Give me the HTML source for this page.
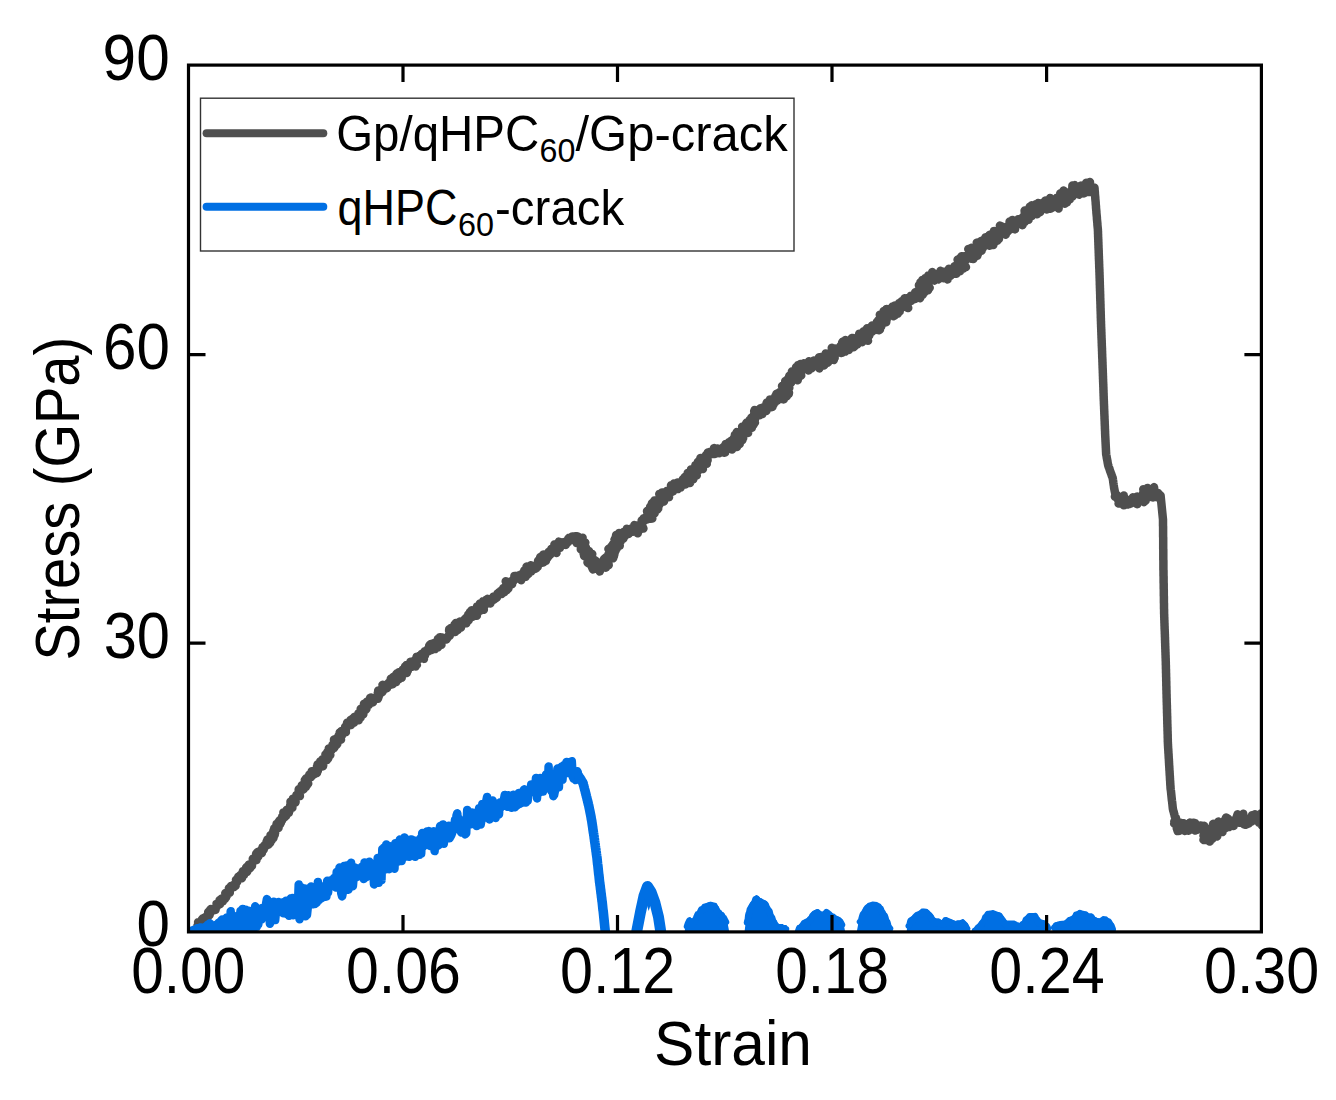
<!DOCTYPE html>
<html><head><meta charset="utf-8"><title>Stress-Strain</title>
<style>html,body{margin:0;padding:0;background:#fff;overflow:hidden;}svg{display:block;font-family:"Liberation Sans",sans-serif;}</style>
</head><body>
<svg width="1336" height="1100" viewBox="0 0 1336 1100">
<defs><clipPath id="pc"><rect x="188.5" y="65.1" width="1072.9" height="866.8"/></clipPath></defs>
<rect width="1336" height="1100" fill="#fff"/>
<g clip-path="url(#pc)" fill="none" stroke-linecap="round" stroke-linejoin="round" stroke-width="8.5">
<path d="M196.5,928.5 197.3,927.8 197.9,927.0 197.5,925.6 198.0,924.7 200.2,925.0 198.1,922.2 201.3,923.4 201.9,922.7 201.5,921.1 201.7,919.9 202.3,919.1 202.9,918.3 204.1,918.0 204.9,917.4 205.7,916.8 207.7,917.2 207.8,915.9 207.9,914.7 209.6,915.1 208.2,912.2 208.9,911.3 210.9,912.1 210.2,909.7 210.9,909.0 212.9,909.9 213.6,909.1 215.5,909.9 215.6,908.4 216.1,907.4 216.8,906.7 216.8,905.3 216.6,903.9 217.8,903.7 220.0,904.2 219.0,902.1 220.1,901.8 219.6,900.0 222.9,901.4 221.3,898.8 222.3,898.3 224.9,899.1 224.3,897.4 226.0,897.4 225.9,896.1 226.9,895.6 225.3,893.1 227.4,893.5 227.9,892.6 229.8,892.8 228.7,890.7 230.1,890.5 228.9,888.3 230.6,888.3 231.0,887.4 231.0,886.1 233.9,887.1 233.0,885.2 235.6,885.9 234.9,884.1 235.6,883.4 236.3,882.7 237.1,882.0 236.0,879.8 237.6,879.8 237.5,878.5 238.7,878.2 238.3,876.6 241.9,878.2 240.0,875.3 242.2,875.8 241.5,874.0 244.1,874.9 244.0,873.5 242.9,871.2 245.9,872.5 246.9,872.0 247.4,871.2 247.0,869.4 246.2,867.5 247.0,866.8 250.1,868.2 249.5,866.4 248.9,864.5 252.0,865.8 251.8,864.4 252.2,863.4 252.2,862.1 253.0,861.4 253.0,860.2 252.8,858.8 256.4,860.2 255.5,858.4 256.4,857.7 256.1,856.3 258.3,856.6 256.1,853.9 258.0,854.0 257.3,852.3 258.2,851.7 261.9,853.1 261.3,851.4 261.0,850.0 262.0,849.5 263.8,849.6 262.5,847.3 264.1,847.3 265.1,846.9 264.6,845.1 265.8,844.9 267.4,844.9 268.5,844.6 266.6,841.5 270.0,843.2 267.4,839.5 270.7,841.1 271.6,840.5 269.7,837.9 271.5,837.9 273.5,838.0 270.5,835.2 273.5,835.7 274.7,835.0 273.8,833.6 275.1,833.0 273.3,831.2 273.6,830.2 274.7,829.6 274.3,828.3 275.4,827.7 278.5,828.0 277.2,826.3 276.5,824.9 276.6,823.9 280.1,824.4 278.2,822.4 280.9,822.8 279.3,820.7 280.0,820.0 282.2,820.3 282.2,819.1 282.2,817.9 282.2,816.6 284.6,817.3 283.4,815.0 286.1,815.9 283.4,812.4 285.4,812.8 286.4,812.3 288.8,812.9 286.6,809.9 289.5,810.9 289.5,809.6 290.2,808.9 290.4,807.8 292.4,807.8 290.2,805.2 291.0,804.6 290.6,803.2 290.5,801.9 291.7,801.5 295.4,802.6 295.6,801.6 292.9,798.7 295.6,799.2 295.6,798.0 296.6,797.5 297.4,796.8 296.4,794.9 299.9,796.1 298.2,793.8 299.5,793.4 300.1,792.6 298.7,790.4 298.7,789.2 300.8,789.5 303.0,789.7 303.8,789.1 304.0,788.0 301.8,785.3 305.9,786.9 306.0,785.8 306.9,785.2 305.9,783.2 308.2,783.7 304.9,780.0 305.5,779.2 306.1,778.3 307.8,778.3 308.4,777.5 308.7,776.6 311.0,777.1 309.3,774.5 312.4,775.6 311.1,773.3 314.0,774.4 311.7,771.2 313.6,771.5 317.0,773.0 315.9,770.8 317.8,771.0 317.7,769.7 318.2,768.8 317.0,766.4 319.3,767.1 317.6,764.3 321.6,766.5 323.0,766.3 323.2,765.2 320.2,761.4 322.2,761.7 322.7,760.9 322.4,759.4 325.4,760.4 326.8,760.1 324.9,757.7 328.2,758.5 328.3,757.4 325.4,754.5 329.2,755.6 330.3,755.1 327.3,752.1 329.7,752.4 330.6,751.8 330.9,750.8 328.8,748.4 332.2,749.3 332.6,748.3 334.1,748.1 334.5,747.2 332.5,744.7 335.1,745.3 336.4,745.0 337.1,744.3 334.1,740.8 334.0,739.5 337.7,741.0 336.1,738.6 338.5,739.1 341.0,739.7 338.7,736.8 338.7,735.5 340.3,735.5 341.9,735.5 339.7,732.5 341.8,732.8 341.1,731.1 344.4,732.3 345.9,732.2 344.2,729.6 344.8,728.8 346.2,728.7 345.2,726.6 346.0,725.9 347.0,725.4 348.2,725.2 347.1,722.7 351.0,725.1 351.0,723.7 350.5,721.7 350.5,719.9 354.0,722.8 352.2,718.9 353.0,718.3 353.8,717.7 354.3,716.9 358.7,720.3 356.6,716.6 357.4,716.1 360.6,717.6 360.1,715.8 358.4,713.3 360.3,713.5 363.3,714.3 361.1,711.6 363.5,712.0 360.7,708.9 364.7,710.5 365.6,709.8 366.4,709.2 366.2,707.8 365.1,705.8 364.0,703.7 367.0,704.7 368.8,705.0 366.7,701.8 367.8,701.4 369.9,702.0 371.6,702.3 373.0,702.4 370.1,697.9 371.1,697.5 374.7,699.8 374.7,698.4 375.8,698.1 377.9,698.7 378.3,697.8 378.6,696.6 379.0,695.6 377.8,693.0 379.7,693.5 378.2,690.5 381.7,692.6 382.4,691.9 383.0,691.0 382.3,689.0 382.7,687.9 383.6,687.4 382.5,684.8 387.0,688.2 386.4,686.0 386.5,684.6 388.0,684.8 389.5,685.1 388.8,682.6 391.5,684.4 392.7,684.3 391.1,680.8 390.8,678.8 394.3,681.5 396.1,682.2 393.2,676.9 396.5,679.4 397.7,679.4 399.0,679.3 396.2,674.3 396.8,673.5 401.6,677.8 398.5,672.4 399.6,672.1 402.1,673.7 402.3,672.3 404.5,673.4 402.7,669.6 406.8,673.0 404.3,668.5 407.7,670.9 405.1,666.4 407.8,668.0 406.5,664.9 408.6,665.8 409.3,665.1 412.0,666.8 411.5,664.6 410.5,661.7 415.6,666.5 415.9,665.3 416.8,664.8 414.6,660.3 416.0,660.6 416.1,659.0 416.4,657.8 416.7,656.7 419.7,658.8 418.6,656.1 419.6,655.8 423.9,658.9 422.6,656.1 421.6,653.8 424.9,655.5 423.3,652.8 425.4,653.3 424.7,651.3 426.7,651.7 428.0,651.5 428.1,650.3 428.0,648.8 430.7,650.3 431.7,650.0 429.3,645.4 430.1,644.6 430.9,643.9 435.1,649.1 435.9,648.3 434.1,643.1 437.8,647.5 435.7,642.1 437.8,643.5 438.6,643.0 441.4,644.9 437.9,639.0 439.9,639.9 442.1,640.8 439.9,637.2 441.5,637.4 443.5,638.0 446.4,639.5 446.5,638.2 447.6,637.8 447.9,636.8 448.3,635.8 449.7,635.9 449.6,634.3 450.6,634.0 449.1,630.8 449.2,629.3 453.0,632.2 450.8,628.0 455.3,631.9 454.5,629.3 453.9,627.0 457.7,630.0 454.5,624.7 457.1,626.2 455.8,623.0 460.9,627.7 459.7,624.7 461.6,625.5 459.8,621.6 463.2,624.2 463.5,623.0 464.0,622.0 466.3,623.3 464.5,619.4 465.2,618.7 467.3,619.8 468.8,620.2 467.3,616.4 469.6,618.0 468.3,614.4 470.7,616.1 472.5,616.9 470.1,611.8 474.0,615.5 471.5,610.3 476.8,615.8 475.3,612.1 475.7,611.1 478.1,612.4 477.8,610.5 479.7,611.1 477.0,606.5 480.3,608.8 481.0,608.1 483.8,609.8 479.8,603.6 482.8,605.5 484.5,606.0 484.8,604.8 483.1,601.2 486.5,603.8 485.4,600.9 486.0,600.0 490.3,603.6 487.5,598.8 489.6,599.7 491.9,600.9 492.5,600.0 492.4,598.4 494.4,599.4 493.5,596.5 495.1,597.0 496.8,597.8 497.0,596.3 497.7,595.5 497.5,593.4 499.0,593.9 499.1,592.2 501.6,594.0 500.6,591.1 501.9,591.1 504.3,592.3 503.5,590.0 503.2,588.2 506.8,590.2 504.7,587.0 508.3,588.7 508.5,587.6 507.0,585.1 509.3,585.7 505.7,581.3 508.6,582.4 512.1,584.3 511.0,582.0 511.5,581.1 512.7,581.1 513.6,580.8 514.0,579.8 514.3,578.1 514.4,575.9 515.7,576.3 516.6,575.9 518.0,576.6 521.2,580.3 519.4,575.2 520.7,575.4 521.1,574.2 522.9,575.0 525.6,576.8 526.1,575.8 524.1,571.8 524.3,570.4 528.4,573.9 527.1,570.7 528.8,571.3 526.6,566.5 531.2,571.5 529.5,567.1 531.2,567.9 530.9,565.2 532.7,566.4 535.2,568.9 536.1,568.4 535.5,565.3 537.7,567.0 537.2,564.3 537.6,563.2 539.2,563.7 538.1,560.7 539.5,560.8 542.4,562.7 543.5,562.4 540.2,557.2 544.8,560.9 546.0,560.7 544.6,557.7 543.2,554.6 547.5,557.9 545.7,554.4 548.7,556.3 547.9,553.9 550.2,554.9 548.7,551.8 550.7,552.5 551.8,552.2 553.1,552.2 551.4,548.7 556.5,553.0 553.4,547.9 554.2,547.4 554.7,546.4 554.4,544.5 557.2,546.2 559.9,547.9 560.3,546.9 558.3,542.8 558.8,541.7 560.6,542.4 563.8,544.8 563.0,542.3 565.8,544.9 565.3,542.3 565.9,541.5 567.2,542.6 568.0,542.3 568.2,538.7 569.1,537.8 570.3,539.3 571.4,539.6 572.2,536.4 573.4,539.0 574.4,540.7 575.4,536.2 576.9,536.3 578.3,536.8 579.2,537.8 576.8,543.2 582.6,537.7 582.3,539.9 583.1,541.0 581.1,543.3 585.3,542.5 582.1,545.1 584.9,544.8 584.5,546.1 580.8,549.2 585.9,547.4 583.2,550.2 585.4,550.0 585.9,550.8 583.6,553.8 589.0,551.0 584.0,555.8 584.8,556.4 587.0,556.0 592.2,554.0 588.0,557.7 588.9,558.3 588.0,559.9 592.9,558.5 587.5,562.5 588.6,563.3 594.9,560.3 593.8,562.1 596.3,561.1 591.8,566.7 592.3,567.9 593.0,569.4 595.9,567.2 596.6,568.3 597.5,569.1 598.8,568.2 599.7,571.5 600.9,568.1 601.4,565.5 602.8,566.8 601.4,562.8 605.9,567.7 606.3,566.5 605.0,563.9 608.7,565.2 608.5,563.7 605.6,561.0 604.0,559.0 604.9,558.4 605.7,557.7 607.2,557.3 608.8,557.0 613.2,558.2 608.3,554.6 613.9,556.3 612.5,554.5 614.4,554.3 611.2,551.5 608.4,549.0 615.3,551.4 611.3,548.2 610.9,546.9 616.7,548.8 616.3,547.4 612.8,544.5 613.8,543.8 619.7,545.8 614.7,542.1 618.7,543.0 614.5,539.6 620.4,541.9 615.5,537.5 619.0,538.7 616.1,535.1 620.6,537.5 623.3,538.7 619.1,533.0 621.1,533.6 624.8,536.3 624.6,534.6 623.5,531.9 626.2,533.4 625.9,531.5 628.7,534.0 626.8,528.8 629.4,532.2 629.9,531.1 631.0,532.0 631.3,528.6 632.7,531.7 633.7,531.3 634.3,528.3 634.4,525.0 637.8,533.3 638.2,530.9 636.9,525.9 640.1,529.6 638.6,525.4 640.3,526.3 643.4,528.5 641.8,524.9 641.6,523.1 642.5,522.6 641.7,520.5 643.3,520.9 644.3,520.7 644.1,519.5 643.6,518.2 647.2,519.4 645.5,517.4 650.3,518.7 652.3,518.5 647.2,515.0 650.2,515.3 650.1,514.2 647.0,511.2 647.8,510.5 654.5,513.5 651.9,510.6 655.0,511.6 650.1,506.7 654.6,508.9 657.3,509.6 658.0,508.8 651.9,503.3 656.4,505.2 655.7,503.6 659.4,504.7 654.4,500.4 656.5,500.5 661.3,502.6 659.2,499.8 659.6,498.9 663.9,501.6 660.3,496.7 659.3,494.0 662.4,495.9 661.7,493.5 662.0,492.4 665.7,495.2 669.0,497.2 667.3,493.9 668.5,493.6 667.0,490.7 669.4,491.7 671.3,492.3 671.0,490.5 673.0,491.3 672.1,488.9 671.0,485.4 673.7,487.8 674.1,486.6 674.0,483.5 676.4,487.4 677.8,489.1 677.4,482.5 679.1,486.1 680.7,487.6 680.7,484.4 681.0,483.1 682.3,483.7 683.8,484.3 685.4,484.6 685.3,482.9 682.8,479.2 688.5,483.1 690.0,483.1 684.8,477.0 686.5,477.2 686.6,476.0 692.1,479.6 693.3,479.3 687.7,473.0 690.4,474.1 690.1,472.4 692.7,473.4 696.7,475.5 691.0,469.4 692.4,469.3 695.4,470.5 696.3,469.9 698.6,470.5 697.0,467.8 695.4,465.2 697.6,465.8 702.9,469.0 701.8,466.8 697.9,461.8 703.5,465.8 700.8,461.7 704.7,464.4 700.4,458.1 706.7,463.8 702.9,457.9 705.5,459.4 707.6,460.3 707.4,458.5 706.0,455.2 706.7,454.3 708.4,454.8 707.9,452.4 709.7,453.1 710.1,451.8 712.8,454.0 713.1,452.6 715.1,453.9 714.4,450.8 714.0,448.1 716.4,450.1 719.2,453.3 717.8,448.4 719.5,449.4 721.8,452.2 721.4,448.6 724.1,452.7 725.1,452.6 723.8,446.6 726.4,450.1 725.3,445.4 725.7,444.0 727.9,446.2 729.5,447.1 732.0,449.5 728.9,442.2 732.7,446.5 732.3,444.0 731.3,440.5 736.9,447.0 736.3,444.1 733.3,439.4 739.6,444.2 733.9,438.1 734.2,437.4 736.6,438.0 742.4,440.1 734.9,434.8 743.1,438.4 740.9,435.9 736.8,432.1 741.5,434.0 741.2,432.6 742.7,432.5 744.7,432.8 744.9,431.7 748.1,432.9 742.1,426.8 747.9,430.2 745.3,426.9 748.9,428.3 750.4,428.1 751.8,427.9 746.4,422.8 748.5,423.1 753.2,425.1 753.8,424.3 749.6,420.1 754.9,422.7 751.0,418.7 751.3,417.7 755.0,419.3 753.3,416.6 753.7,415.6 754.0,414.4 755.2,414.2 754.2,411.3 754.7,409.9 759.6,415.3 759.3,413.1 760.8,413.5 762.3,414.1 760.0,408.6 760.8,408.1 761.9,407.9 762.9,407.6 766.3,411.0 765.0,407.1 765.5,406.1 768.1,408.3 766.4,403.8 766.8,402.6 771.0,407.2 772.3,407.1 770.3,402.7 773.3,404.9 770.0,399.5 773.2,401.7 775.1,402.4 773.5,399.2 774.9,399.2 777.5,400.4 778.1,399.6 775.5,395.7 780.3,399.0 776.4,393.8 783.8,399.4 778.6,393.3 779.7,393.0 779.8,391.9 786.8,396.3 781.7,390.9 784.9,392.2 788.8,393.8 789.0,392.7 782.0,386.2 786.6,388.4 787.9,388.1 789.3,387.9 786.8,384.8 787.4,384.0 785.2,381.2 786.0,380.6 791.0,383.0 787.5,379.3 789.1,379.2 790.8,379.2 789.1,376.8 789.3,375.8 797.7,380.2 793.9,376.5 792.5,374.3 797.5,376.4 791.9,371.5 794.5,372.0 801.2,375.6 801.0,374.6 799.4,372.1 796.1,367.0 798.6,368.2 798.0,365.1 800.2,366.3 800.4,363.9 801.8,364.4 804.9,368.9 803.6,363.3 804.8,363.4 808.5,370.5 807.4,364.3 808.4,364.0 808.8,361.3 811.7,368.4 812.3,367.0 813.0,365.4 814.1,366.0 813.8,360.4 815.1,361.9 817.1,365.0 819.4,368.4 819.9,366.6 820.1,364.3 820.5,362.7 819.0,357.4 824.1,365.4 821.0,357.0 822.1,357.2 826.0,362.1 827.6,362.7 828.4,361.9 827.1,358.3 826.0,355.3 825.7,353.5 832.2,359.6 833.8,360.0 829.4,353.3 834.6,357.8 832.1,353.3 832.2,351.9 834.3,352.9 831.8,347.9 835.5,351.1 834.8,348.4 838.8,352.5 838.4,350.1 841.3,353.0 842.4,352.7 839.9,346.8 840.6,345.9 845.2,351.6 843.6,347.0 842.1,342.6 842.7,341.6 848.8,350.1 847.4,345.6 845.5,340.0 848.7,344.0 849.6,343.5 850.2,342.4 853.4,347.2 854.2,346.9 851.8,338.1 852.8,338.0 854.8,340.2 857.4,344.3 857.5,341.7 858.9,342.5 859.2,340.5 858.5,336.4 862.2,342.2 859.2,333.8 863.7,340.2 861.7,334.8 864.0,336.8 868.0,340.8 866.1,336.2 863.6,331.3 866.9,334.0 869.3,335.5 866.0,329.6 868.1,330.7 867.1,328.2 871.7,332.0 871.2,330.0 872.8,330.3 871.8,327.9 875.4,329.9 872.0,325.6 878.8,330.2 879.9,329.8 876.7,325.6 877.1,324.7 881.1,326.8 876.9,321.9 881.9,324.9 878.2,320.3 882.5,322.8 880.0,319.2 882.9,320.5 886.2,322.2 879.8,314.8 886.6,319.9 885.1,317.1 884.5,315.1 885.0,314.1 883.6,311.1 885.8,311.8 889.1,314.2 886.4,309.0 891.0,313.7 893.5,316.1 894.4,315.8 894.7,314.5 895.1,313.1 892.5,306.5 897.7,313.8 894.4,305.7 898.8,311.8 899.7,311.4 899.2,308.4 899.6,307.0 899.0,303.3 901.4,306.1 901.3,303.4 901.4,301.3 902.3,300.9 906.6,307.3 908.2,308.0 904.7,300.0 904.6,298.3 906.8,300.1 906.6,298.3 907.7,298.2 911.3,301.0 910.9,299.0 911.7,298.4 910.8,295.8 915.0,299.1 912.9,295.3 914.5,295.6 915.7,295.5 920.0,298.3 915.2,292.3 919.8,295.2 917.0,291.4 922.7,294.9 919.0,290.5 920.6,290.5 924.5,292.4 923.3,290.2 918.9,285.2 920.0,284.7 928.0,290.3 920.4,282.3 923.4,283.6 929.6,287.9 922.4,279.9 924.3,280.3 925.5,279.9 925.2,278.2 929.0,280.6 930.7,280.8 929.2,277.9 928.2,275.5 934.4,280.5 934.9,280.0 933.8,277.1 932.3,272.1 935.2,275.9 936.4,276.8 936.8,274.5 938.4,279.4 938.9,274.0 940.0,275.3 940.5,270.7 942.1,275.8 943.6,278.0 944.6,277.4 944.1,271.8 947.6,279.5 947.6,276.1 947.3,272.6 948.2,272.1 950.8,275.6 948.8,268.9 952.1,273.3 953.6,273.7 953.2,271.1 956.4,273.8 954.4,269.3 955.1,268.6 954.4,266.4 960.1,271.2 956.2,265.4 959.8,267.9 958.4,264.8 963.2,268.6 964.0,268.1 957.6,259.6 965.9,267.1 963.6,263.1 960.1,258.0 964.2,260.8 961.4,256.4 966.1,259.9 963.9,256.2 966.1,257.0 966.3,255.8 969.4,257.6 971.9,258.8 973.5,259.0 969.4,253.2 972.1,254.6 968.3,249.1 971.9,251.5 977.3,255.8 971.4,248.0 978.1,253.7 977.1,251.1 975.0,247.4 979.4,250.9 976.5,245.9 981.5,250.8 976.8,242.6 978.0,242.4 982.8,248.1 981.9,244.6 981.1,241.0 984.0,244.3 983.7,241.6 986.0,243.7 988.0,245.1 989.7,245.7 985.5,237.4 989.7,242.0 993.2,245.1 990.4,239.5 993.4,241.8 989.5,234.9 995.7,241.6 994.5,238.3 997.5,240.5 997.6,239.0 998.9,239.1 994.0,231.0 999.4,236.5 996.5,231.1 997.8,231.1 999.0,231.0 1001.7,232.8 1002.8,232.5 1005.7,234.7 999.9,225.6 1002.1,226.6 1004.1,227.5 1007.7,231.5 1006.8,228.2 1007.6,227.5 1009.7,229.8 1010.1,228.4 1009.5,224.0 1009.6,221.5 1012.1,225.3 1015.0,229.4 1014.6,226.0 1012.4,220.1 1015.5,223.6 1015.8,222.4 1017.9,223.5 1018.7,222.8 1022.4,225.2 1018.2,219.3 1019.5,219.2 1021.8,220.3 1024.8,221.9 1024.0,219.7 1022.9,217.0 1026.2,219.4 1024.4,215.7 1028.6,219.7 1024.8,212.7 1024.6,210.6 1030.0,216.9 1027.5,211.2 1031.8,216.0 1031.1,213.1 1031.3,211.6 1029.7,206.8 1034.6,213.3 1031.4,205.4 1037.2,214.3 1037.6,213.0 1035.6,206.6 1035.7,204.3 1040.2,212.0 1039.2,207.2 1038.4,203.0 1041.1,206.6 1040.8,203.5 1042.5,204.8 1044.5,206.9 1046.7,209.5 1047.0,207.9 1045.2,200.6 1047.5,203.7 1048.5,203.4 1050.2,208.8 1050.0,198.1 1051.3,203.3 1051.9,208.2 1053.4,202.4 1054.3,201.0 1055.3,204.6 1055.8,202.1 1058.6,208.5 1055.9,198.7 1056.9,199.5 1056.6,198.0 1061.8,203.2 1059.5,198.8 1064.9,203.6 1065.8,202.9 1066.9,202.4 1061.9,196.0 1060.3,193.3 1064.3,195.6 1070.0,199.3 1068.9,197.0 1063.6,190.6 1069.5,195.2 1071.6,196.5 1072.5,196.5 1071.6,193.7 1073.2,194.9 1073.8,194.4 1072.3,188.8 1072.4,185.5 1075.5,192.1 1074.6,185.1 1076.3,187.9 1079.1,194.7 1078.8,189.7 1079.7,188.9 1082.0,193.4 1080.8,185.6 1083.9,193.4 1084.3,192.1 1084.2,185.5 1085.2,184.9 1086.3,182.7 1087.0,192.1 1088.6,183.8 1090.0,182.0 1089.7,192.1 1091.1,188.7 1091.9,188.9 1092.8,188.6 1094.4,187.7 1094.6,188.7 1094.6,189.7 1094.7,190.7 1094.8,191.7 1094.9,192.7 1094.9,193.7 1095.0,194.7 1095.1,195.7 1095.2,196.7 1095.3,197.7 1095.3,198.7 1095.4,199.7 1095.5,200.7 1095.6,201.7 1095.7,202.7 1095.7,203.7 1095.8,204.7 1095.9,205.7 1096.0,206.7 1096.0,207.7 1096.1,208.7 1096.2,209.7 1096.3,210.7 1096.4,211.7 1096.4,212.6 1096.5,213.6 1096.6,214.6 1096.7,215.6 1096.8,216.6 1096.9,217.6 1096.9,218.6 1097.0,219.6 1097.1,220.6 1097.2,221.6 1097.3,222.6 1097.4,223.6 1097.4,224.6 1097.5,225.6 1097.6,226.6 1097.7,227.6 1097.8,228.6 1097.9,229.6 1097.9,230.6 1098.0,231.6 1098.0,232.6 1098.0,233.6 1098.1,234.6 1098.1,235.6 1098.1,236.6 1098.2,237.6 1098.2,238.6 1098.3,239.6 1098.3,240.6 1098.3,241.6 1098.4,242.6 1098.4,243.6 1098.4,244.6 1098.5,245.6 1098.5,246.6 1098.5,247.6 1098.6,248.6 1098.6,249.6 1098.7,250.6 1098.7,251.6 1098.7,252.6 1098.8,253.6 1098.8,254.6 1098.8,255.6 1098.9,256.6 1098.9,257.6 1098.9,258.6 1099.0,259.6 1099.0,260.6 1099.1,261.6 1099.1,262.6 1099.1,263.6 1099.2,264.6 1099.2,265.6 1099.2,266.6 1099.3,267.6 1099.3,268.6 1099.4,269.6 1099.4,270.6 1099.4,271.6 1099.5,272.6 1099.5,273.6 1099.5,274.6 1099.6,275.6 1099.6,276.6 1099.6,277.6 1099.7,278.6 1099.7,279.6 1099.7,280.6 1099.8,281.6 1099.8,282.6 1099.8,283.6 1099.8,284.6 1099.9,285.6 1099.9,286.6 1099.9,287.6 1100.0,288.6 1100.0,289.6 1100.0,290.6 1100.1,291.6 1100.1,292.6 1100.1,293.6 1100.2,294.6 1100.2,295.6 1100.2,296.6 1100.2,297.6 1100.3,298.6 1100.3,299.6 1100.3,300.6 1100.4,301.6 1100.4,302.6 1100.4,303.6 1100.5,304.6 1100.5,305.6 1100.5,306.6 1100.5,307.6 1100.6,308.6 1100.6,309.6 1100.6,310.6 1100.7,311.6 1100.7,312.6 1100.7,313.6 1100.8,314.6 1100.8,315.6 1100.8,316.6 1100.8,317.6 1100.9,318.6 1100.9,319.6 1100.9,320.6 1101.0,321.6 1101.0,322.6 1101.0,323.6 1101.1,324.6 1101.1,325.6 1101.1,326.6 1101.2,327.6 1101.2,328.6 1101.3,329.6 1101.3,330.6 1101.3,331.6 1101.4,332.6 1101.4,333.6 1101.4,334.6 1101.5,335.6 1101.5,336.6 1101.5,337.6 1101.6,338.6 1101.6,339.6 1101.7,340.5 1101.7,341.5 1101.7,342.5 1101.8,343.5 1101.8,344.5 1101.8,345.5 1101.9,346.5 1101.9,347.5 1102.0,348.5 1102.0,349.5 1102.0,350.5 1102.1,351.5 1102.1,352.5 1102.1,353.5 1102.2,354.5 1102.2,355.5 1102.2,356.5 1102.3,357.5 1102.3,358.5 1102.4,359.5 1102.4,360.5 1102.4,361.5 1102.5,362.5 1102.5,363.5 1102.5,364.5 1102.6,365.5 1102.6,366.5 1102.6,367.5 1102.7,368.5 1102.7,369.5 1102.8,370.5 1102.8,371.5 1102.8,372.5 1102.9,373.5 1102.9,374.5 1102.9,375.5 1103.0,376.5 1103.0,377.5 1103.0,378.5 1103.1,379.5 1103.1,380.5 1103.1,381.5 1103.2,382.5 1103.2,383.5 1103.3,384.5 1103.3,385.5 1103.3,386.5 1103.4,387.5 1103.4,388.5 1103.4,389.5 1103.5,390.5 1103.5,391.5 1103.5,392.5 1103.6,393.5 1103.6,394.5 1103.6,395.5 1103.7,396.5 1103.7,397.5 1103.7,398.5 1103.8,399.5 1103.8,400.5 1103.9,401.5 1103.9,402.5 1103.9,403.5 1104.0,404.5 1104.0,405.5 1104.1,406.5 1104.1,407.5 1104.1,408.5 1104.2,409.5 1104.2,410.5 1104.3,411.5 1104.3,412.5 1104.3,413.5 1104.4,414.5 1104.4,415.5 1104.5,416.5 1104.5,417.5 1104.5,418.5 1104.6,419.5 1104.6,420.5 1104.7,421.5 1104.7,422.5 1104.7,423.5 1104.8,424.5 1104.8,425.5 1104.9,426.5 1104.9,427.5 1104.9,428.5 1105.0,429.5 1105.0,430.5 1105.1,431.5 1105.1,432.5 1105.1,433.5 1105.2,434.5 1105.2,435.5 1105.3,436.5 1105.3,437.5 1105.4,438.5 1105.4,439.5 1105.5,440.5 1105.5,441.5 1105.6,442.5 1105.6,443.5 1105.7,444.5 1105.7,445.5 1105.8,446.5 1105.8,447.5 1105.9,448.5 1105.9,449.5 1106.0,450.5 1106.0,451.5 1106.1,452.5 1106.1,453.5 1106.2,454.5 1106.4,455.5 1106.6,456.4 1106.7,457.4 1106.9,458.4 1107.1,459.4 1107.3,460.4 1107.5,461.4 1107.6,462.4 1107.8,463.3 1108.0,464.3 1108.2,465.3 1108.5,466.3 1108.8,467.2 1109.2,468.1 1109.5,469.1 1109.8,470.0 1110.1,471.0 1110.5,471.9 1110.8,472.9 1111.2,473.8 1111.5,474.7 1111.8,475.7 1112.2,476.6 1112.5,477.6 1112.8,478.5 1112.9,479.5 1113.1,480.5 1113.2,481.5 1113.3,482.5 1113.5,483.5 1113.6,484.5 1113.8,485.5 1113.9,486.4 1114.0,487.4 1114.2,488.4 1114.4,489.4 1114.6,490.4 1114.8,491.4 1115.0,492.3 1115.2,493.3 1115.7,494.2 1116.8,494.9 1114.9,496.7 1116.4,497.2 1117.4,497.6 1119.1,497.1 1118.0,499.7 1120.8,496.9 1118.6,503.5 1120.1,503.6 1122.5,498.5 1123.8,495.5 1123.7,505.3 1125.0,498.9 1126.1,502.6 1127.5,504.5 1128.4,503.6 1129.5,504.1 1129.8,499.8 1131.0,503.4 1131.8,499.3 1132.9,497.3 1133.8,499.8 1134.8,498.4 1135.9,503.3 1137.3,504.2 1136.6,496.8 1137.0,496.6 1138.6,498.2 1139.8,498.4 1144.0,501.9 1144.6,501.2 1145.5,500.8 1144.6,498.2 1145.0,497.1 1143.2,492.9 1144.7,493.2 1143.3,489.3 1149.2,496.4 1147.0,490.6 1147.4,487.9 1149.4,489.7 1150.6,489.3 1151.0,494.1 1154.0,487.1 1154.4,490.1 1151.6,497.1 1152.9,497.4 1154.9,495.9 1156.1,495.7 1158.1,492.9 1157.3,497.3 1158.8,495.8 1160.2,495.0 1160.6,495.7 1160.7,496.7 1160.8,497.7 1160.9,498.7 1161.0,499.7 1161.1,500.7 1161.2,501.7 1161.3,502.7 1161.4,503.7 1161.5,504.7 1161.6,505.7 1161.7,506.7 1161.8,507.7 1161.9,508.7 1162.0,509.7 1162.1,510.7 1162.2,511.7 1162.3,512.7 1162.4,513.7 1162.5,514.7 1162.6,515.6 1162.7,516.6 1162.8,517.6 1162.9,518.6 1163.0,519.6 1163.0,520.6 1163.0,521.6 1163.0,522.6 1163.0,523.6 1163.0,524.6 1163.0,525.6 1163.1,526.6 1163.1,527.6 1163.1,528.6 1163.1,529.6 1163.1,530.6 1163.1,531.6 1163.1,532.6 1163.1,533.6 1163.1,534.6 1163.1,535.6 1163.1,536.6 1163.2,537.6 1163.2,538.6 1163.2,539.6 1163.2,540.6 1163.2,541.6 1163.2,542.6 1163.2,543.6 1163.2,544.6 1163.2,545.6 1163.2,546.6 1163.2,547.6 1163.2,548.6 1163.3,549.6 1163.3,550.6 1163.3,551.6 1163.3,552.6 1163.3,553.6 1163.3,554.6 1163.3,555.6 1163.3,556.6 1163.3,557.6 1163.3,558.6 1163.3,559.6 1163.4,560.6 1163.4,561.6 1163.4,562.6 1163.4,563.6 1163.4,564.6 1163.4,565.6 1163.4,566.6 1163.4,567.6 1163.4,568.6 1163.4,569.6 1163.5,570.6 1163.5,571.6 1163.5,572.6 1163.5,573.6 1163.5,574.6 1163.5,575.6 1163.6,576.6 1163.6,577.6 1163.6,578.6 1163.6,579.6 1163.6,580.6 1163.6,581.6 1163.6,582.6 1163.7,583.6 1163.7,584.6 1163.7,585.6 1163.7,586.6 1163.7,587.6 1163.7,588.6 1163.8,589.6 1163.8,590.6 1163.8,591.6 1163.8,592.6 1163.8,593.6 1163.8,594.6 1163.8,595.6 1163.9,596.6 1163.9,597.6 1163.9,598.6 1163.9,599.6 1163.9,600.6 1163.9,601.6 1163.9,602.6 1164.0,603.6 1164.0,604.6 1164.0,605.6 1164.0,606.6 1164.0,607.6 1164.0,608.6 1164.1,609.6 1164.1,610.6 1164.1,611.6 1164.1,612.6 1164.1,613.6 1164.2,614.6 1164.2,615.6 1164.2,616.6 1164.3,617.6 1164.3,618.6 1164.3,619.6 1164.4,620.6 1164.4,621.6 1164.4,622.6 1164.5,623.6 1164.5,624.6 1164.5,625.6 1164.6,626.6 1164.6,627.6 1164.6,628.6 1164.7,629.6 1164.7,630.6 1164.8,631.6 1164.8,632.6 1164.8,633.6 1164.9,634.6 1164.9,635.6 1164.9,636.6 1165.0,637.6 1165.0,638.6 1165.0,639.6 1165.1,640.6 1165.1,641.6 1165.1,642.6 1165.2,643.6 1165.2,644.6 1165.2,645.6 1165.3,646.6 1165.3,647.6 1165.3,648.6 1165.4,649.6 1165.4,650.6 1165.4,651.6 1165.5,652.6 1165.5,653.6 1165.5,654.6 1165.6,655.6 1165.6,656.6 1165.6,657.6 1165.7,658.6 1165.7,659.6 1165.7,660.6 1165.8,661.6 1165.8,662.6 1165.8,663.6 1165.8,664.6 1165.9,665.6 1165.9,666.6 1165.9,667.6 1165.9,668.6 1166.0,669.6 1166.0,670.6 1166.0,671.6 1166.0,672.6 1166.1,673.6 1166.1,674.6 1166.1,675.6 1166.1,676.6 1166.2,677.6 1166.2,678.6 1166.2,679.6 1166.2,680.6 1166.3,681.6 1166.3,682.6 1166.3,683.6 1166.3,684.6 1166.3,685.6 1166.4,686.6 1166.4,687.6 1166.4,688.6 1166.4,689.6 1166.5,690.6 1166.5,691.6 1166.5,692.6 1166.5,693.6 1166.6,694.6 1166.6,695.6 1166.6,696.6 1166.6,697.6 1166.7,698.6 1166.7,699.6 1166.7,700.6 1166.7,701.6 1166.8,702.6 1166.8,703.6 1166.8,704.6 1166.9,705.6 1166.9,706.6 1166.9,707.6 1166.9,708.6 1167.0,709.6 1167.0,710.6 1167.0,711.6 1167.0,712.6 1167.1,713.6 1167.1,714.6 1167.1,715.6 1167.2,716.6 1167.2,717.6 1167.2,718.6 1167.2,719.6 1167.3,720.6 1167.3,721.6 1167.3,722.6 1167.3,723.6 1167.4,724.6 1167.4,725.6 1167.4,726.6 1167.5,727.6 1167.5,728.6 1167.5,729.6 1167.5,730.6 1167.6,731.6 1167.6,732.6 1167.6,733.6 1167.7,734.6 1167.7,735.6 1167.7,736.6 1167.7,737.6 1167.8,738.6 1167.8,739.6 1167.8,740.6 1167.8,741.6 1167.9,742.6 1167.9,743.6 1168.0,744.6 1168.0,745.6 1168.1,746.6 1168.1,747.6 1168.2,748.6 1168.3,749.6 1168.3,750.6 1168.4,751.6 1168.4,752.6 1168.5,753.6 1168.6,754.6 1168.6,755.6 1168.7,756.6 1168.7,757.6 1168.8,758.6 1168.9,759.6 1168.9,760.6 1169.0,761.6 1169.0,762.6 1169.1,763.6 1169.1,764.6 1169.2,765.6 1169.3,766.6 1169.3,767.6 1169.4,768.6 1169.4,769.6 1169.5,770.6 1169.6,771.6 1169.6,772.6 1169.7,773.6 1169.7,774.6 1169.8,775.6 1169.9,776.6 1169.9,777.6 1170.0,778.6 1170.0,779.6 1170.1,780.6 1170.2,781.6 1170.2,782.5 1170.3,783.5 1170.3,784.5 1170.4,785.5 1170.5,786.5 1170.5,787.5 1170.6,788.5 1170.7,789.5 1170.9,790.5 1171.0,791.5 1171.1,792.5 1171.2,793.5 1171.3,794.5 1171.4,795.5 1171.5,796.5 1171.6,797.5 1171.7,798.5 1171.8,799.5 1171.9,800.5 1172.1,801.5 1172.2,802.5 1172.3,803.4 1172.4,804.4 1172.5,805.4 1172.6,806.4 1172.7,807.4 1172.8,808.4 1173.0,809.4 1173.2,810.4 1173.5,811.3 1173.8,812.3 1174.0,813.3 1174.3,814.2 1174.5,815.2 1174.8,816.2 1175.0,817.2 1175.9,817.9 1176.1,818.9 1175.9,820.0 1174.3,821.5 1177.7,821.6 1174.2,823.6 1178.9,823.0 1178.7,823.8 1177.0,826.3 1176.8,828.4 1177.7,831.0 1179.7,830.7 1180.0,822.6 1182.0,828.3 1182.5,826.6 1183.3,823.2 1183.7,828.3 1183.9,830.1 1186.1,825.5 1184.7,830.9 1189.8,822.6 1190.5,823.4 1188.5,830.6 1190.9,825.7 1191.3,829.5 1192.2,828.8 1192.0,824.0 1195.0,830.6 1196.1,829.7 1193.2,822.7 1195.2,823.1 1197.6,828.9 1197.5,829.8 1197.1,829.5 1199.1,825.9 1200.9,825.5 1200.9,827.0 1204.2,825.8 1201.7,829.0 1204.9,827.8 1206.2,828.2 1204.6,830.5 1208.1,828.7 1204.9,832.8 1203.5,835.6 1204.8,835.9 1203.5,839.9 1205.8,840.0 1208.3,837.8 1209.8,841.6 1209.7,835.7 1212.5,838.6 1209.3,832.8 1211.9,834.1 1217.1,836.5 1213.8,833.0 1213.5,831.5 1216.4,833.1 1213.0,828.0 1217.8,832.6 1213.1,823.9 1215.7,825.7 1216.4,824.5 1217.7,824.9 1222.4,832.1 1218.2,821.6 1220.6,824.2 1223.1,826.7 1224.7,827.5 1226.0,827.8 1224.5,823.1 1224.3,820.8 1229.0,827.1 1225.6,818.7 1226.2,817.5 1228.1,818.8 1230.4,821.4 1233.6,826.1 1233.4,823.3 1233.5,821.1 1234.2,820.2 1235.7,821.9 1236.3,820.8 1236.7,817.1 1237.6,814.2 1238.9,815.5 1239.9,822.8 1240.9,821.0 1241.9,823.1 1243.2,813.8 1243.9,824.4 1245.0,818.0 1245.9,824.8 1247.0,820.7 1248.0,820.1 1249.0,823.4 1250.0,821.0 1251.0,821.7 1252.0,815.3 1253.0,820.8 1254.0,817.7 1255.0,814.3 1256.0,815.0 1257.0,819.3 1258.0,816.6 1259.0,822.8 1260.0,814.8 1261.0,813.5 1262.0,825.6 1263.0,817.2 1264.0,819.6 1265.0,815.9 1266.0,815.9 1267.0,818.3 1268.0,823.1 1269.0,813.8 1270.0,823.7" stroke="#4f4f4f"/>
<path d="M190.0,933.3 191.0,931.6 192.0,930.8 193.0,930.1 194.0,929.7 195.0,930.2 196.0,932.8 197.0,928.3 198.0,932.4 199.0,931.7 200.0,927.5 200.9,927.4 201.9,931.9 202.9,931.3 203.9,928.1 204.8,932.8 205.8,926.4 206.8,928.3 207.8,924.6 208.8,930.3 209.7,923.3 210.7,924.1 211.7,931.7 212.7,927.8 213.7,930.2 214.6,931.3 215.6,929.6 216.6,924.6 217.6,930.9 218.5,922.8 219.4,924.2 220.3,926.3 221.2,920.4 222.2,919.4 223.1,928.8 224.0,930.3 224.9,922.3 225.8,922.2 226.7,917.4 227.7,924.7 228.7,926.0 229.7,934.9 230.7,911.3 231.6,934.4 232.6,936.7 233.6,918.6 234.6,929.3 235.6,932.1 236.5,926.9 237.5,915.7 238.5,926.0 239.5,933.7 240.5,910.9 241.5,922.1 242.5,908.9 243.5,932.8 244.5,930.9 245.5,909.7 246.4,929.8 247.4,928.1 248.4,910.7 249.3,922.6 250.3,927.5 251.3,916.2 252.2,921.1 252.9,934.9 253.7,923.7 254.5,919.1 255.2,906.3 256.0,907.3 256.8,926.6 257.5,922.9 258.3,924.6 259.1,917.2 259.8,916.5 260.6,914.7 261.4,919.6 262.1,907.9 263.0,912.1 263.9,911.5 264.9,917.1 265.9,904.5 266.9,899.1 267.9,901.0 268.9,903.7 269.9,923.8 270.9,919.9 271.8,921.0 272.7,911.4 273.5,901.8 274.3,911.1 275.2,920.0 276.0,911.1 276.9,913.2 277.7,907.1 278.5,901.9 279.4,911.2 280.3,907.9 281.3,904.8 282.3,902.4 283.3,913.2 284.3,903.2 285.3,910.3 286.0,900.8 286.7,914.0 287.4,902.8 288.2,904.9 288.9,915.8 289.6,909.8 290.3,909.6 291.0,898.3 291.7,911.5 292.4,897.9 293.1,915.3 293.9,912.5 294.9,905.2 295.8,911.6 296.8,901.0 297.8,908.4 298.7,884.5 299.5,919.2 300.3,912.3 301.1,887.2 302.0,891.7 302.8,905.1 303.6,911.6 304.5,888.5 305.3,916.3 306.2,895.2 307.0,914.7 307.9,906.4 308.7,898.1 309.6,894.4 310.4,887.2 311.1,886.5 311.8,899.1 312.5,901.8 313.2,904.2 313.9,890.6 314.6,904.1 315.4,887.2 316.1,903.3 316.9,902.4 317.9,881.9 318.8,900.1 319.8,895.7 320.7,895.2 321.7,898.3 322.7,890.4 323.6,889.4 324.6,885.9 325.5,896.7 326.4,896.6 327.2,880.8 328.1,892.3 328.9,882.5 329.8,880.5 330.7,880.5 331.5,886.1 332.4,881.1 333.2,880.2 334.1,877.8 334.9,880.3 335.8,887.5 336.7,872.0 337.7,881.2 338.6,884.0 339.5,867.6 340.3,874.0 341.2,893.1 342.1,896.4 343.0,891.6 343.9,866.0 344.8,888.2 345.7,875.8 346.6,865.5 347.5,876.1 348.4,889.8 349.3,887.3 350.2,872.2 351.1,862.8 352.0,885.0 352.9,886.2 353.9,874.1 354.8,867.5 355.8,874.4 356.8,877.1 357.8,872.7 358.8,870.4 359.7,868.8 360.7,869.6 361.7,866.7 362.6,868.5 363.6,878.9 364.5,862.4 365.5,875.5 366.4,877.0 367.4,868.0 368.3,872.4 369.3,861.8 370.2,874.4 371.1,875.6 372.1,876.3 373.0,868.0 374.0,884.4 374.9,880.7 375.8,869.9 376.8,873.7 377.7,858.0 378.6,882.8 379.3,870.8 380.1,879.0 380.8,856.5 381.5,880.2 382.3,849.1 383.0,863.1 383.8,847.7 384.5,849.8 385.3,869.4 386.2,844.6 387.1,855.4 388.1,849.1 389.0,869.2 389.9,846.3 390.9,853.5 391.8,866.5 392.8,861.6 393.6,861.7 394.5,868.7 395.4,843.2 396.3,859.8 397.1,861.8 398.0,861.7 398.9,860.4 399.8,839.6 400.7,839.7 401.6,861.0 402.5,855.5 403.4,844.8 404.4,837.4 405.3,851.9 406.2,839.7 407.1,856.6 408.1,845.9 409.0,856.8 409.9,839.8 410.8,848.6 411.7,839.4 412.5,853.9 413.4,848.5 414.2,840.6 415.1,856.8 416.0,849.9 416.8,841.1 417.7,853.3 418.5,841.0 419.4,854.7 420.3,838.3 421.2,853.6 422.2,833.1 423.1,846.6 424.0,837.8 424.9,839.9 425.9,843.6 426.9,831.4 427.9,834.4 428.8,831.1 429.8,845.9 430.8,832.6 431.7,839.5 432.7,834.5 433.7,831.3 434.6,851.1 435.5,838.5 436.5,842.0 437.4,843.0 438.3,845.6 439.3,830.7 440.2,825.9 441.1,835.3 442.0,828.0 442.9,824.4 443.8,843.8 444.6,836.8 445.4,831.9 446.2,826.1 447.0,837.2 447.9,832.4 448.7,825.8 449.5,838.3 450.3,836.9 451.1,835.6 452.0,833.4 452.7,828.8 453.5,824.4 454.2,829.7 455.0,819.8 455.8,828.1 456.5,815.6 457.3,813.2 458.1,829.2 458.8,818.8 459.6,828.4 460.4,830.8 461.2,832.5 462.2,825.3 463.2,832.5 464.2,826.6 465.2,834.4 466.2,833.2 467.2,809.9 468.1,816.4 468.9,819.1 469.6,816.2 470.3,815.1 471.0,824.3 471.9,812.4 472.8,813.8 473.7,822.6 474.7,813.0 475.6,813.1 476.5,826.0 477.4,821.8 478.3,815.2 479.1,808.2 479.9,810.3 480.7,824.6 481.5,820.1 482.3,803.9 483.1,817.3 483.9,809.2 484.7,816.7 485.5,805.9 486.3,800.9 487.1,796.9 487.9,803.4 488.7,818.8 489.6,819.4 490.6,813.2 491.6,814.7 492.6,800.6 493.6,804.8 494.6,816.9 495.6,818.0 496.6,807.0 497.4,812.5 498.2,814.4 499.0,814.5 499.8,802.6 500.7,807.6 501.5,803.0 502.3,803.5 503.1,802.9 503.9,799.5 504.8,794.9 505.6,805.9 506.6,804.7 507.5,806.8 508.5,795.3 509.5,796.4 510.4,802.2 511.4,807.8 512.4,799.6 513.3,794.7 514.3,801.2 515.2,807.2 516.1,805.3 517.0,805.5 517.9,796.2 518.8,793.0 519.7,804.0 520.6,802.1 521.5,803.0 522.4,793.4 523.3,790.7 524.2,789.3 525.0,801.9 525.9,802.6 526.8,790.4 527.7,800.8 528.5,789.7 529.4,790.6 530.3,792.8 531.2,784.4 532.1,784.8 533.0,784.3 534.0,783.6 535.0,790.2 536.0,777.9 537.0,798.4 538.0,779.0 538.7,787.3 539.5,792.5 540.2,778.0 540.9,784.8 541.6,787.6 542.3,786.5 543.1,791.6 543.7,788.5 544.2,777.4 544.7,787.4 545.1,782.2 545.6,783.2 546.1,774.3 546.5,778.2 547.0,783.4 547.5,786.5 547.9,786.7 548.6,766.5 549.4,788.9 550.2,780.2 551.0,784.2 551.7,791.5 552.5,776.2 553.3,796.2 554.1,795.0 554.9,791.2 555.7,775.3 556.6,779.8 557.4,768.6 558.2,785.1 558.9,787.3 559.6,768.2 560.3,780.9 561.0,778.6 561.8,766.4 562.5,779.6 563.0,772.4 563.6,768.7 564.2,765.0 564.8,773.7 565.3,767.4 565.9,768.8 566.5,762.1 567.0,769.1 567.6,764.0 568.4,773.1 569.3,770.6 570.1,772.0 570.9,764.3 571.8,761.2 572.7,776.7 573.7,778.8 574.6,773.1 575.6,780.0 576.4,775.4 576.9,773.6 577.3,771.3 577.7,772.1 578.1,774.3 578.5,775.0 578.9,776.1 579.3,777.0" stroke="#006fe3"/>
<path d="M579.3,777.0 579.8,777.9 580.4,778.7 580.9,779.6 581.4,780.4 581.9,781.3 582.5,782.1 583.0,783.0 583.3,784.0 583.5,784.9 583.8,785.9 584.0,786.9 584.3,787.9 584.5,788.8 584.8,789.8 585.1,790.8 585.3,791.7 585.5,792.7 585.8,793.7 586.0,794.7 586.3,795.7 586.5,796.6 586.8,797.6 587.0,798.6 587.2,799.6 587.5,800.5 587.7,801.5 588.0,802.5 588.2,803.5 588.4,804.4 588.7,805.4 588.9,806.4 589.1,807.4 589.3,808.4 589.5,809.4 589.7,810.3 589.9,811.3 590.1,812.3 590.3,813.3 590.5,814.3 590.7,815.3 590.9,816.3 591.1,817.3 591.2,818.2 591.4,819.2 591.6,820.2 591.8,821.2 591.9,822.2 592.1,823.2 592.2,824.2 592.4,825.2 592.5,826.2 592.7,827.2 592.8,828.2 592.9,829.2 593.1,830.2 593.2,831.2 593.4,832.2 593.5,833.1 593.7,834.1 593.8,835.1 594.0,836.1 594.1,837.1 594.2,838.1 594.4,839.1 594.5,840.1 594.6,841.1 594.8,842.1 594.9,843.1 595.1,844.1 595.2,845.1 595.3,846.1 595.5,847.1 595.6,848.1 595.8,849.1 595.9,850.1 596.0,851.1 596.2,852.1 596.3,853.1 596.4,854.1 596.6,855.1 596.7,856.1 596.9,857.1 597.0,858.1 597.1,859.1 597.2,860.1 597.3,861.1 597.4,862.1 597.5,863.1 597.6,864.1 597.8,865.1 597.9,866.1 598.0,867.1 598.1,868.1 598.2,869.1 598.3,870.1 598.4,871.1 598.5,872.1 598.6,873.1 598.7,874.1 598.9,875.0 599.0,876.0 599.1,877.0 599.2,878.0 599.3,879.0 599.4,880.0 599.5,881.0 599.6,882.0 599.8,883.0 599.9,884.0 600.0,885.0 600.2,886.0 600.3,887.0 600.4,888.0 600.5,889.0 600.7,890.0 600.8,891.0 600.9,892.0 601.0,893.0 601.2,894.0 601.3,895.0 601.4,896.0 601.5,897.0 601.7,898.0 601.8,899.0 601.9,900.0 602.0,901.0 602.2,902.0 602.3,903.0 602.4,904.0 602.5,905.0 602.6,906.0 602.7,907.0 602.8,908.0 602.9,909.0 603.0,910.0 603.2,911.0 603.3,912.0 603.4,913.0 603.5,914.0 603.6,915.0 603.7,916.0 603.8,917.0 603.9,918.0 604.0,919.0 604.1,920.0 604.2,921.0 604.3,922.0 604.4,923.0 604.5,924.0 604.6,925.0 604.7,926.0 604.8,927.0 604.9,928.0 605.0,929.0 605.1,930.0 605.2,931.0 605.3,932.0 605.5,933.0 605.6,934.0 605.7,935.0 605.8,936.0 605.9,937.0 606.0,938.0 606.2,939.0 606.3,940.0 606.4,941.0 606.5,942.0" stroke="#006fe3" stroke-width="9.6"/>
<path d="M635.5,942.0 637.0,930.0 640.5,912.0 644.0,896.0 647.5,886.5 651.0,892.0 655.0,903.0 658.5,917.0 660.5,930.0 661.5,942.0" stroke="#006fe3" stroke-width="11"/>
<path d="M644.3,897 L653,897 L648.7,911Z" fill="#006fe3"/>
<path d="M685.0,936.0 687.0,922.0 689.8,918.0 693.0,921.0 698.0,912.0 703.0,905.0 710.8,902.7 716.0,904.0 719.0,910.0 722.8,914.0 726.0,920.0 729.0,936.0Z" fill="#006fe3" stroke="#006fe3" stroke-width="2"/>
<path d="M687.0,926.4 688.2,922.9 689.4,920.6 690.8,922.5 692.3,924.7 693.6,923.5 694.6,920.2 695.6,919.2 696.6,916.9 697.6,914.3 698.8,915.6 700.0,912.3 701.2,909.5 702.4,910.2 704.1,909.4 706.1,908.3 708.1,905.9 710.1,905.1 712.1,906.3 714.2,907.0 716.1,908.6 717.0,910.7 718.0,912.4 718.9,912.5 720.3,914.8 721.7,914.9 723.0,917.7 724.0,918.1 725.0,920.1 726.0,922.0" stroke="#006fe3" stroke-width="6.5"/>
<path d="M745.0,936.0 747.0,920.0 750.0,905.0 756.4,896.0 760.0,899.0 766.2,902.0 770.0,910.0 773.7,918.0 778.0,925.0 782.6,925.0 786.0,936.0Z" fill="#006fe3" stroke="#006fe3" stroke-width="2"/>
<path d="M747.0,922.6 747.4,920.6 747.8,919.8 748.2,915.7 748.6,913.8 749.0,913.5 749.4,911.6 749.8,909.6 750.7,907.9 751.9,906.0 753.1,903.9 754.3,902.9 755.5,899.1 756.9,898.7 758.5,901.7 760.1,901.2 761.9,903.2 763.8,903.3 765.7,904.7 766.8,907.6 767.7,908.9 768.6,910.1 769.5,911.4 770.4,915.0 771.2,916.4 772.1,917.6 773.0,920.8 773.9,922.1 775.0,924.8 776.1,925.6 777.2,928.1 778.5,928.4 780.5,928.9 782.6,929.3" stroke="#006fe3" stroke-width="6.5"/>
<path d="M779.0,936.0 782.0,926.0 786.0,926.0 788.0,936.0Z" fill="#006fe3" stroke="#006fe3" stroke-width="2"/>
<path d="M782.0,927.9 786.0,929.1" stroke="#006fe3" stroke-width="6.5"/>
<path d="M795.0,936.0 798.0,928.0 802.5,921.4 808.4,918.4 813.0,912.0 817.4,910.0 822.0,913.0 826.4,910.1 831.0,914.0 838.4,917.6 842.0,921.0 845.0,936.0Z" fill="#006fe3" stroke="#006fe3" stroke-width="2"/>
<path d="M798.0,931.5 799.2,928.0 800.4,928.6 801.6,926.6 802.9,925.8 804.8,923.0 806.7,922.4 808.5,922.7 809.8,919.4 811.0,919.0 812.3,916.0 813.8,914.3 815.7,913.3 817.6,912.4 819.4,914.3 821.2,914.6 823.0,916.6 824.7,915.9 826.5,912.1 828.1,913.3 829.7,914.5 831.4,918.8 833.3,917.0 835.2,919.8 837.1,919.6 838.9,920.3 840.5,921.9 842.0,924.8" stroke="#006fe3" stroke-width="6.5"/>
<path d="M857.0,936.0 860.0,920.0 863.8,909.4 868.0,904.0 872.8,902.5 877.0,903.0 880.3,904.9 884.0,912.0 886.3,917.0 890.0,925.0 893.0,936.0Z" fill="#006fe3" stroke="#006fe3" stroke-width="2"/>
<path d="M860.0,921.7 860.7,922.4 861.4,919.4 862.2,916.3 862.9,914.2 863.6,913.6 864.8,911.8 866.1,909.1 867.4,907.4 869.1,906.7 871.1,907.5 873.2,905.9 875.3,907.1 877.4,906.9 879.2,907.7 880.7,908.9 881.7,911.4 882.7,912.7 883.7,915.3 884.6,915.5 885.5,917.9 886.4,921.6 887.3,922.0 888.2,925.4 889.1,927.7 890.0,928.5" stroke="#006fe3" stroke-width="6.5"/>
<path d="M907.0,936.0 908.7,924.0 910.2,918.4 915.0,915.0 922.2,909.4 928.2,910.9 931.0,914.0 934.2,918.4 941.7,921.4 946.0,918.0 950.7,919.9 955.0,922.0 959.6,921.4 963.0,920.0 967.1,924.0 971.0,936.0Z" fill="#006fe3" stroke="#006fe3" stroke-width="2"/>
<path d="M908.7,925.9 909.2,926.0 909.8,923.8 910.5,920.7 912.2,921.4 913.9,919.0 915.5,916.4 917.1,915.1 918.8,914.4 920.4,914.4 922.0,913.7 924.0,911.8 926.0,912.0 928.0,914.4 929.4,915.2 930.8,916.8 932.0,919.6 933.2,921.6 934.6,923.3 936.5,923.4 938.4,921.7 940.3,922.9 942.2,924.5 943.8,924.4 945.4,920.3 947.2,921.7 949.1,922.1 951.0,922.9 952.8,923.4 954.7,924.3 956.7,924.1 958.7,923.4 960.7,924.3 962.6,923.2 964.2,925.0 965.6,926.2 967.1,928.6" stroke="#006fe3" stroke-width="6.5"/>
<path d="M972.0,936.0 975.0,928.0 982.5,919.9 986.9,912.4 992.9,910.9 1000.4,913.9 1003.0,918.0 1006.4,921.4 1013.9,921.4 1017.0,923.0 1021.4,924.4 1025.9,916.9 1030.0,914.0 1034.9,913.9 1039.3,919.9 1045.3,921.4 1048.0,926.0 1050.0,936.0Z" fill="#006fe3" stroke="#006fe3" stroke-width="2"/>
<path d="M975.0,930.7 976.4,930.9 977.8,927.8 979.2,927.2 980.6,926.1 982.0,923.3 983.2,921.8 984.2,920.6 985.3,917.2 986.3,916.7 987.8,914.1 989.8,914.0 991.8,914.8 993.7,915.9 995.6,916.8 997.5,915.2 999.5,915.6 1001.0,918.0 1002.1,919.5 1003.2,921.0 1004.7,923.7 1006.1,925.0 1008.1,924.8 1010.2,925.0 1012.2,924.9 1014.2,925.3 1016.1,927.1 1018.0,927.9 1019.9,928.7 1021.7,928.3 1022.7,924.1 1023.8,923.5 1024.8,922.8 1025.9,919.4 1027.6,919.2 1029.3,916.3 1031.2,916.2 1033.2,916.8 1035.1,916.1 1036.4,918.8 1037.6,919.9 1038.8,923.6 1040.5,922.8 1042.5,923.5 1044.5,925.4 1045.9,925.8 1047.0,926.0 1048.0,928.3" stroke="#006fe3" stroke-width="6.5"/>
<path d="M1053.0,936.0 1054.3,924.0 1060.0,922.0 1064.8,921.4 1068.0,919.0 1072.3,916.9 1076.0,913.0 1079.8,910.9 1084.0,912.0 1088.0,914.0 1091.7,914.6 1095.0,918.0 1099.2,919.9 1103.0,917.0 1106.7,917.6 1110.0,921.0 1112.7,924.4 1116.0,936.0Z" fill="#006fe3" stroke="#006fe3" stroke-width="2"/>
<path d="M1054.3,927.6 1056.3,925.5 1058.2,925.0 1060.2,925.6 1062.3,924.9 1064.4,923.9 1066.1,923.8 1067.8,922.8 1069.6,919.9 1071.5,919.8 1073.1,918.6 1074.6,918.9 1076.0,914.8 1077.8,914.7 1079.7,913.2 1081.7,915.2 1083.7,916.1 1085.6,914.6 1087.5,918.1 1089.5,918.1 1091.5,916.9 1093.0,920.5 1094.5,920.0 1096.2,922.7 1098.1,921.3 1099.9,922.4 1101.6,921.3 1103.3,921.5 1105.4,921.7 1107.2,921.5 1108.7,921.4 1110.1,924.1 1111.4,925.6 1112.7,929.2" stroke="#006fe3" stroke-width="6.5"/>
</g>
<g stroke="#000" stroke-width="3.2" fill="none"><rect x="188.5" y="65.1" width="1072.9" height="866.8" fill="none" stroke="#000" stroke-width="3.2"/>
<path d="M403,931.9V914.9M403,65.1V82.1"/>
<path d="M617.5,931.9V914.9M617.5,65.1V82.1"/>
<path d="M832,931.9V914.9M832,65.1V82.1"/>
<path d="M1046.6,931.9V914.9M1046.6,65.1V82.1"/>
<path d="M188.5,354.7H205.5M1261.4,354.7H1244.4"/>
<path d="M188.5,643.2H205.5M1261.4,643.2H1244.4"/></g>
<rect x="200.5" y="98.2" width="593.5" height="152.8" fill="#fff" stroke="#333" stroke-width="1.4"/>
<path d="M206.6,133.2H323.3" stroke="#4f4f4f" stroke-width="8" stroke-linecap="round"/>
<path d="M206.6,206.8H323.3" stroke="#006fe3" stroke-width="8" stroke-linecap="round"/>
<g font-family="Liberation Sans" fill="#000">
<text transform="translate(102.58,79.55) scale(0.9321,1)" font-size="64.79">90</text>
<text transform="translate(103.09,368.96) scale(0.9372,1)" font-size="64.23">60</text>
<text transform="translate(103.72,657.55) scale(0.9201,1)" font-size="64.79">30</text>
<text transform="translate(136.39,946.06) scale(0.9375,1)" font-size="64.23">0</text>
<text transform="translate(131.26,992.56) scale(0.9117,1)" font-size="64.23">0.00</text>
<text transform="translate(345.94,992.56) scale(0.9183,1)" font-size="64.23">0.06</text>
<text transform="translate(559.93,992.56) scale(0.9225,1)" font-size="64.23">0.12</text>
<text transform="translate(775.16,992.56) scale(0.9108,1)" font-size="64.23">0.18</text>
<text transform="translate(989.33,992.56) scale(0.9226,1)" font-size="64.23">0.24</text>
<text transform="translate(1203.93,992.56) scale(0.9225,1)" font-size="64.23">0.30</text>
<text transform="translate(654.08,1065.37) scale(0.9533,1)" font-size="63.40">Strain</text>
<text transform="translate(336.23,150.80) scale(0.9585,1)" font-size="49.50">Gp/qHPC</text>
<text transform="translate(539.49,162.47) scale(0.9853,1)" font-size="32.68">60</text>
<text transform="translate(575.50,150.80) scale(0.9889,1)" font-size="49.50">/Gp-crack</text>
<text transform="translate(337.50,224.50) scale(0.9081,1)" font-size="49.50">qHPC</text>
<text transform="translate(457.88,236.27) scale(0.9870,1)" font-size="32.82">60</text>
<text transform="translate(495.06,224.50) scale(0.9591,1)" font-size="49.50">-crack</text>
<text transform="translate(78.9,660.52) rotate(-90) scale(0.8835,1)" font-size="63.4">Stress (GPa)</text>
</g>
</svg>
</body></html>
